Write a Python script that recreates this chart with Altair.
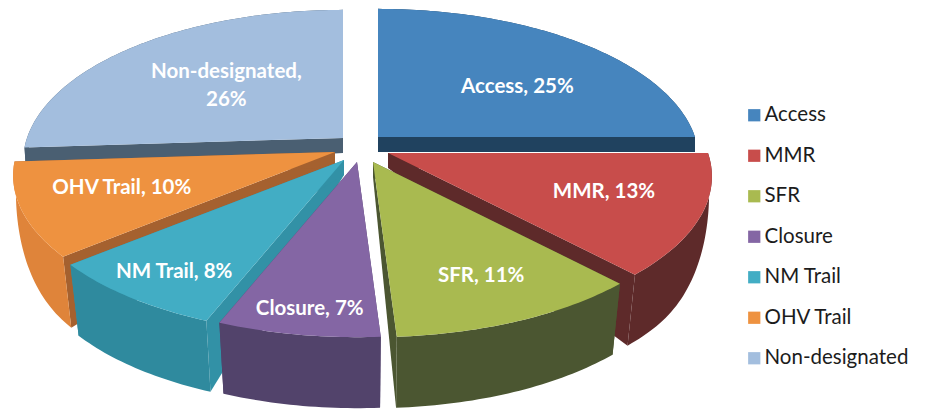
import math
import altair as alt

# ---- data ----
CATEGORIES = ["Access", "MMR", "SFR", "Closure", "NM Trail", "OHV Trail", "Non-designated"]
SHARES = [25, 13, 11, 7, 8, 10, 26]

# ---- colours ----
TOP_COLORS = ["#4685BE", "#C84D4B", "#A9BA50", "#8466A4", "#42ADC4", "#EE9240", "#A3BEDE"]
OUTER_COLORS = ["#20425F", "#5E2A2A", "#4B5631", "#52436B", "#2F8A9E", "#DF843A", "#4A5F72"]
WALL_COLORS = ["#20425F", "#5E2A2A", "#4B5631", "#52436B", "#3291A6", "#A5612F", "#4A5F72"]

# ---- layout of the exploded, perspective pie (image pixels) ----
APEX_X = [378, 388, 373, 357, 344, 335, 343]
APEX_Y = [137, 153, 162, 162, 160, 152, 138]
RADIUS_X = [317, 320, 320, 320, 320, 318, 316]
LABEL_FX = [0.69, 0.69, 0.73, 0.80, 0.79, 0.68, 0.56]
LABEL_FY = [0.55, 0.59, 0.71, 0.84, 0.80, 0.59, 0.74]
DRAW_ORDER = [0, 6, 1, 5, 2, 4, 3]
RY, PERSP = 148.0, 0.155
DROP_BACK, DROP_FRONT, SHRINK = 15.0, 71.0, 0.03


def top_point(i, deg):
    t = math.radians(deg)
    u, v = math.sin(t), math.cos(t)
    d = 1 + PERSP * v
    return APEX_X[i] + RADIUS_X[i] * u / d, APEX_Y[i] - RY * v / d


def bottom_point(i, deg):
    x, y = top_point(i, deg)
    v = math.cos(math.radians(deg))
    f = min(1.0, max(0.0, -v / 0.65))
    e = math.sin(f * math.pi / 2)
    return APEX_X[i] + (x - APEX_X[i]) * (1 - SHRINK * e), y + DROP_BACK + (DROP_FRONT - DROP_BACK) * e


def feature(points, key):
    ring = [[x, -y] for x, y in points]
    ring.append(ring[0])
    return {
        "type": "Feature",
        "geometry": {"type": "Polygon", "coordinates": [ring]},
        "properties": {"key": key},
    }


starts = [sum(SHARES[:i]) * 3.6 for i in range(len(SHARES))]
features = []
labels = []
for i in DRAW_ORDER:
    cat = CATEGORIES[i]
    a0, a1 = starts[i], starts[i] + SHARES[i] * 3.6
    steps = max(2, int(a1 - a0))
    angles = [a0 + (a1 - a0) * k / steps for k in range(steps + 1)]
    apex = (APEX_X[i], APEX_Y[i])
    apex_low = (APEX_X[i], APEX_Y[i] + DROP_BACK)
    for a in (a0, a1):
        features.append(feature([apex, top_point(i, a), bottom_point(i, a), apex_low], cat + " wall"))
    features.append(feature([top_point(i, a) for a in angles] + [bottom_point(i, a) for a in reversed(angles)], cat + " outer"))
    features.append(feature([apex] + [top_point(i, a) for a in angles], cat))

for i, cat in enumerate(CATEGORIES):
    mid = starts[i] + SHARES[i] * 1.8
    mx, my = top_point(i, mid)
    lx = APEX_X[i] + (mx - APEX_X[i]) * LABEL_FX[i]
    ly = APEX_Y[i] + (my - APEX_Y[i]) * LABEL_FY[i]
    sep = ",\n" if cat == "Non-designated" else ", "
    labels.append({"lon": lx, "lat": -ly, "text": f"{cat}{sep}{SHARES[i]}%"})

domain = CATEGORIES + [c + " outer" for c in CATEGORIES] + [c + " wall" for c in CATEGORIES]
color_range = TOP_COLORS + OUTER_COLORS + WALL_COLORS

PROJECTION = dict(type="identity", reflectY=True, scale=1, translate=[-8, -8])

shapes = (
    alt.Chart(alt.Data(values=features))
    .mark_geoshape(strokeWidth=0)
    .encode(
        color=alt.Color(
            "properties.key:N",
            sort=None,
            scale=alt.Scale(domain=domain, range=color_range),
            legend=alt.Legend(
                title=None,
                values=CATEGORIES,
                orient="none",
                legendX=736,
                legendY=97,
                symbolType="square",
                symbolSize=150,
                symbolStrokeWidth=0,
                labelFont="Lato",
                labelFontSize=20.5,
                labelColor="#1c1c1c",
                labelOffset=0,
                labelLimit=200,
                rowPadding=19.5,
                padding=0,
            ),
        )
    )
    .project(**PROJECTION)
)

texts = (
    alt.Chart(alt.Data(values=labels))
    .mark_text(font="Lato", fontWeight="bold", fontSize=20.5, color="white", lineBreak="\n", lineHeight=28, dy=2)
    .encode(longitude="lon:Q", latitude="lat:Q", text="text:N")
    .project(**PROJECTION)
)

chart = (
    alt.layer(shapes, texts)
    .properties(width=909, height=401, padding=0, autosize=alt.AutoSizeParams(type="none"))
    .configure_view(stroke=None)
    .configure(background="white")
)

chart.save("out.html", embed_options={"renderer": "svg", "actions": False})
